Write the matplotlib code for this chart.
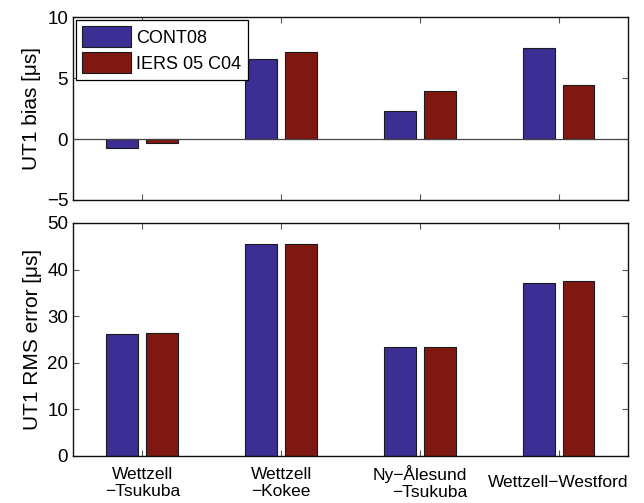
import matplotlib
matplotlib.use("Agg")
import matplotlib.pyplot as plt
import numpy as np

plt.rcParams['font.family'] = ['Liberation Sans', 'DejaVu Sans']

categories = ["Wettzell\n\u2212Tsukuba", "Wettzell\n\u2212Kokee", "Ny\u2212\u00c5lesund\n\u2212Tsukuba", "Wettzell\u2212Westford"]
series_names = ["CONT08", "IERS 05 C04"]
bias_cont08 = [-0.7, 6.6, 2.3, 7.5]
bias_iers = [-0.3, 7.1, 3.9, 4.4]
rms_cont08 = [26.2, 45.4, 23.4, 37.1]
rms_iers = [26.3, 45.4, 23.3, 37.5]

c_blue = "#3b2f94"
c_red = "#801812"

fig = plt.figure(figsize=(6.44, 5.03), dpi=100)
ax1 = fig.add_axes([0.1134, 0.6024, 0.8616, 0.3636])
ax2 = fig.add_axes([0.1134, 0.094, 0.8616, 0.4627])

x = np.arange(1, 5)
w = 0.23
off = 0.144

for ax, a, b in [(ax1, bias_cont08, bias_iers), (ax2, rms_cont08, rms_iers)]:
    ax.bar(x - off, a, w, color=c_blue, edgecolor="#1a1a1a", linewidth=0.8, label=series_names[0], zorder=2)
    ax.bar(x + off, b, w, color=c_red, edgecolor="#1a1a1a", linewidth=0.8, label=series_names[1], zorder=2)
    ax.set_xlim(0.5, 4.5)
    ax.set_xticks(x)
    ax.tick_params(direction='in', top=True, right=True, labelsize=13.5, length=4, color="#555555")
    for s in ax.spines.values():
        s.set_linewidth(1.0)
        s.set_color("#111111")

ax1.axhline(0, color="#444444", lw=0.9, zorder=3)
ax1.set_ylim(-5, 10)
ax1.set_yticks([-5, 0, 5, 10])
ax1.set_yticklabels(["\u22125", "0", "5", "10"])
ax1.set_xticklabels([])
ax1.set_ylabel("UT1 bias [\u03bcs]", fontsize=15)

ax2.set_ylim(0, 50)
ax2.set_yticks([0, 10, 20, 30, 40, 50])
ax2.set_xticklabels(categories, fontsize=12.5, va='center', linespacing=1.18)
ax2.tick_params(axis='x', pad=19.5)
for lbl in ax2.get_xticklabels():
    lbl.set_multialignment('right' if "\u00c5" in lbl.get_text() else 'center')
ax2.set_ylabel("UT1 RMS error [\u03bcs]", fontsize=15)

fig.align_ylabels([ax1, ax2])

leg = ax1.legend(loc='upper left', fontsize=13, handlelength=2.7, handleheight=1.4,
                 borderaxespad=0.15, fancybox=False, edgecolor='black', framealpha=1,
                 borderpad=0.35, labelspacing=0.3, handletextpad=0.3)
leg.get_frame().set_linewidth(0.9)

fig.savefig("out.png", dpi=100)
